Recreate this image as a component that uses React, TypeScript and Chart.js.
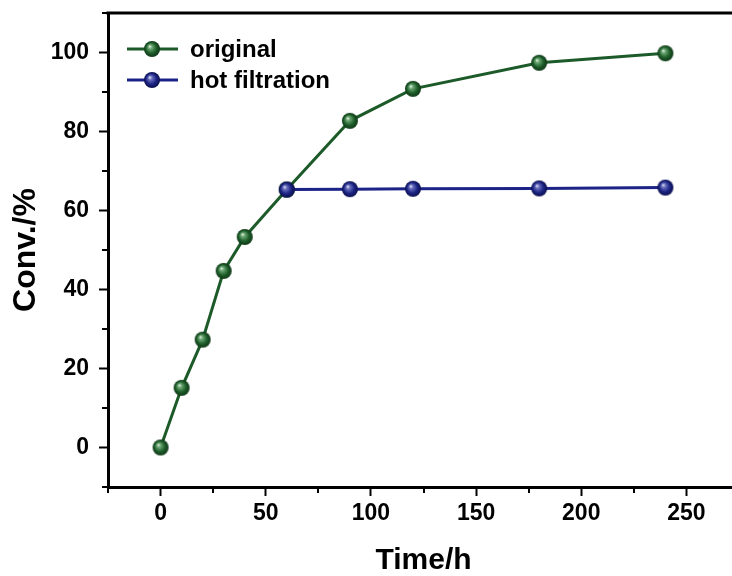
import React, { useEffect, useRef } from 'react';
import { Chart, registerables } from 'chart.js';

Chart.register(...registerables);

// ---- data ----
const timeOriginal = [0, 10, 20, 30, 40, 60, 90, 120, 180, 240];
const convOriginal = [0, 15.1, 27.3, 44.7, 53.3, 65.3, 82.7, 90.8, 97.4, 99.8];
const timeHot = [60, 90, 120, 180, 240];
const convHot = [65.3, 65.4, 65.5, 65.6, 65.8];

const xTicks = [0, 50, 100, 150, 200, 250];
const yTicks = [0, 20, 40, 60, 80, 100];
const xMinorTicks = [-25, 25, 75, 125, 175, 225, 275];
const yMinorTicks = [-10, 10, 30, 50, 70, 90, 110];
const seriesLabels = ['original', 'hot filtration'];
const xTitle = 'Time/h';
const yTitle = 'Conv./%';

const FONT = "'Liberation Sans', Arial, Helvetica, sans-serif";
const GREEN = '#1d5a29';
const BLUE = '#1b2486';

function makeSphere(light: string, mid: string, base: string, dark: string, r = 8): HTMLCanvasElement {
  const c = document.createElement('canvas');
  const s = r * 2 + 2;
  c.width = s;
  c.height = s;
  const ctx = c.getContext('2d')!;
  const cx = s / 2;
  const cy = s / 2;
  const g = ctx.createRadialGradient(cx - r * 0.3, cy - r * 0.35, 0, cx, cy, r);
  g.addColorStop(0, light);
  g.addColorStop(0.25, mid);
  g.addColorStop(0.65, base);
  g.addColorStop(1, dark);
  ctx.fillStyle = g;
  ctx.beginPath();
  ctx.arc(cx, cy, r, 0, Math.PI * 2);
  ctx.fill();
  return c;
}

export default function App() {
  const ref = useRef<HTMLCanvasElement | null>(null);

  useEffect(() => {
    const canvas = ref.current!;
    const greenSphere = makeSphere('#f2faf2', '#6aa672', '#1e5e2a', '#0e3616');
    const blueSphere = makeSphere('#f2f2fb', '#6a70bd', '#1c2484', '#0b0f4c');

    const decor = {
      id: 'decor',
      afterDraw(chart: any) {
        const { ctx, chartArea: a, scales } = chart;
        const x = scales.x;
        const y = scales.y;
        ctx.save();
        ctx.strokeStyle = '#000';
        ctx.lineWidth = 3;
        ctx.beginPath();
        ctx.moveTo(a.left - 1.5, a.top);
        ctx.lineTo(a.right + 1.5, a.top);
        ctx.moveTo(a.right, a.top);
        ctx.lineTo(a.right, a.bottom);
        ctx.stroke();

        ctx.lineWidth = 2;
        ctx.beginPath();
        xMinorTicks.forEach((v) => {
          const px = Math.round(x.getPixelForValue(v));
          ctx.moveTo(px, a.bottom);
          ctx.lineTo(px, a.bottom + 6);
        });
        yMinorTicks.forEach((v) => {
          const py = Math.round(y.getPixelForValue(v));
          ctx.moveTo(a.left, py);
          ctx.lineTo(a.left - 6, py);
        });
        ctx.stroke();

        // legend
        const items = [
          { label: seriesLabels[0], color: GREEN, sphere: greenSphere, yc: 49 },
          { label: seriesLabels[1], color: BLUE, sphere: blueSphere, yc: 80 },
        ];
        items.forEach((it) => {
          ctx.strokeStyle = it.color;
          ctx.lineWidth = 3;
          ctx.beginPath();
          ctx.moveTo(127, it.yc);
          ctx.lineTo(178, it.yc);
          ctx.stroke();
          ctx.drawImage(it.sphere, 152 - it.sphere.width / 2, it.yc - it.sphere.height / 2);
          ctx.fillStyle = '#000';
          ctx.font = `bold 24px ${FONT}`;
          ctx.textAlign = 'left';
          ctx.textBaseline = 'alphabetic';
          ctx.fillText(it.label, 190, it.yc + 8);
        });
        ctx.restore();
      },
    };

    const tickFont = { family: FONT, size: 23, weight: 'bold' as const };
    const xTitleFont = { family: FONT, size: 30, weight: 'bold' as const, lineHeight: 1 };
    const yTitleFont = { family: FONT, size: 32, weight: 'bold' as const, lineHeight: 1 };

    const chart = new Chart(canvas, {
      type: 'line',
      data: {
        datasets: [
          {
            label: seriesLabels[1],
            data: timeHot.map((t, i) => ({ x: t, y: convHot[i] })),
            borderColor: BLUE,
            borderWidth: 3,
            pointStyle: blueSphere,
            tension: 0,
            order: 0,
          },
          {
            label: seriesLabels[0],
            data: timeOriginal.map((t, i) => ({ x: t, y: convOriginal[i] })),
            borderColor: GREEN,
            borderWidth: 3,
            pointStyle: greenSphere,
            tension: 0,
            order: 1,
          },
        ],
      },
      options: {
        animation: false,
        responsive: false,
        devicePixelRatio: 1,
        layout: { padding: { left: 0, right: 11, top: 13, bottom: 0 } },
        plugins: { legend: { display: false }, tooltip: { enabled: false } },
        scales: {
          x: {
            type: 'linear',
            min: -25,
            max: 275,
            afterBuildTicks: (s: any) => {
              s.ticks = xTicks.map((v) => ({ value: v }));
            },
            afterFit: (s: any) => {
              s.height = 89;
              s.paddingLeft = 0;
              s.paddingRight = 0;
              s.paddingTop = 0;
              s.paddingBottom = 0;
            },
            border: { display: true, width: 3, color: '#000' },
            grid: { drawOnChartArea: false, drawTicks: true, tickLength: 9, tickWidth: 2, tickColor: '#000' },
            ticks: { font: tickFont, color: '#000', padding: 4, maxRotation: 0, autoSkip: false },
            title: { display: true, text: xTitle, font: xTitleFont, color: '#000', padding: { top: 0, bottom: 0 } },
          },
          y: {
            type: 'linear',
            min: -10,
            max: 110,
            afterBuildTicks: (s: any) => {
              s.ticks = yTicks.map((v) => ({ value: v }));
            },
            afterFit: (s: any) => {
              s.width = 108;
              s.paddingLeft = 0;
              s.paddingRight = 0;
              s.paddingTop = 0;
              s.paddingBottom = 0;
            },
            border: { display: true, width: 3, color: '#000' },
            grid: { drawOnChartArea: false, drawTicks: true, tickLength: 9, tickWidth: 2, tickColor: '#000' },
            ticks: { font: tickFont, color: '#000', padding: 10, autoSkip: false },
            title: { display: true, text: yTitle, font: yTitleFont, color: '#000', padding: { top: 10, bottom: 0 } },
          },
        },
      },
      plugins: [decor],
    });

    return () => chart.destroy();
  }, []);

  return (
    <div
      style={{
        position: 'fixed',
        left: 0,
        top: 0,
        width: 732,
        height: 576,
        overflow: 'hidden',
        background: '#fff',
      }}
    >
      <canvas ref={ref} width={750} height={576} style={{ display: 'block', width: 750, height: 576 }} />
    </div>
  );
}
